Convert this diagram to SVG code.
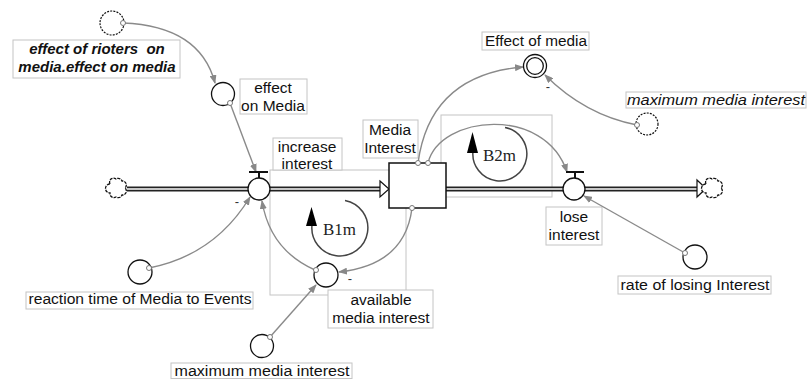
<svg xmlns="http://www.w3.org/2000/svg" xmlns:xlink="http://www.w3.org/1999/xlink" width="807" height="379" viewBox="0 0 807 379">
  <style>
    .lbl { font-family: "Liberation Sans", Arial, sans-serif; font-size: 15.5px; fill: #111; text-anchor: middle; }
    .ital { font-style: italic; }
    .bi { font-style: italic; font-weight: bold; font-size: 15px; white-space: pre; }
    .box { fill: #fff; stroke: #c4c4c4; stroke-width: 1; }
    .loopbox { fill: none; stroke: #c4c4c4; stroke-width: 1; }
    .aux { fill: #fff; stroke: #111; stroke-width: 1.3; }
    .ghost { fill: #fff; stroke: #111; stroke-width: 1.2; stroke-dasharray: 2 1.2; }
    .link { fill: none; stroke: #8a8a8a; stroke-width: 1.4; }
    .org { fill: #fff; stroke: #777; stroke-width: 1; }
    .pipeo { fill: none; stroke: #222; stroke-width: 5; }
    .pipei { fill: none; stroke: #fff; stroke-width: 1.6; }
    .loop { fill: none; stroke: #444; stroke-width: 1.5; }
    .loopt { font-family: "Liberation Serif", "Times New Roman", serif; font-size: 16px; fill: #222; }
    .pol { font-family: "Liberation Sans", Arial, sans-serif; font-size: 13px; fill: #333; text-anchor: middle; }
  </style>
  <defs>
    <marker id="arr" markerUnits="userSpaceOnUse" markerWidth="9" markerHeight="7" refX="8" refY="3.5" orient="auto">
      <path d="M0,0 L9,3.5 L0,7 z" fill="#888"/>
    </marker>
    <path id="cloud" d="M-7,-4 a4,4 0 0 1 6,-5 a4,4 0 0 1 6,2 a4,4 0 0 1 3,7 a4,4 0 0 1 -3,7 a4,4 0 0 1 -6,2 a4,4 0 0 1 -6,-4 a4,4 0 0 1 0,-9 z" fill="#fff" stroke="#111" stroke-width="1.3" stroke-dasharray="3 1"/>
  </defs>

  <!-- loop frames -->
  <g id="loop-frames">
    <rect class="loopbox" x="270" y="170" width="136" height="125"/>
    <rect class="loopbox" x="441" y="115" width="111" height="82"/>
  </g>

  <!-- label frames -->
  <g id="label-frames">
    <rect class="box" x="13" y="40" width="167" height="38"/>
    <rect class="box" x="240" y="79" width="67" height="35"/>
    <rect class="box" x="273" y="138" width="69" height="32"/>
    <rect class="box" x="363" y="120" width="55" height="38"/>
    <rect class="box" x="482" y="32" width="107" height="18"/>
    <rect class="box" x="626" y="92" width="180" height="16"/>
    <rect class="box" x="546" y="207" width="56" height="38"/>
    <rect class="box" x="618" y="276" width="153" height="18"/>
    <rect class="box" x="26" y="292" width="227" height="17"/>
    <rect class="box" x="328" y="290" width="105" height="38"/>
    <rect class="box" x="171" y="363" width="181" height="15.5"/>
  </g>

  <!-- flow pipes -->
  <g id="pipes">
    <path class="pipeo" d="M127,189 H381"/>
    <path class="pipei" d="M127,189 H381"/>
    <path class="pipeo" d="M446,189 H698"/>
    <path class="pipei" d="M446,189 H698"/>
    <path d="M380,181 L389,189 L380,197 z" fill="#fff" stroke="#111" stroke-width="1.2"/>
    <path d="M697,180 L706,188.5 L697,197 z" fill="#fff" stroke="#111" stroke-width="1.2"/>
  </g>

  <!-- connectors -->
  <g id="connectors">
    <path class="link" d="M123,23 Q200,26 215,83" marker-end="url(#arr)"/>
    <path class="link" d="M230,103 L256,172" marker-end="url(#arr)"/>
    <path class="link" d="M149,268 Q215,255 250,197" marker-end="url(#arr)"/>
    <path class="link" d="M412,208 Q405,265 339,272" marker-end="url(#arr)"/>
    <path class="link" d="M315,270 Q270,250 262,201" marker-end="url(#arr)"/>
    <path class="link" d="M270,337 L316,285" marker-end="url(#arr)"/>
    <path class="link" d="M418,163 Q430,75 523,67" marker-end="url(#arr)"/>
    <path class="link" d="M637,125 Q585,115 545,75" marker-end="url(#arr)"/>
    <path class="link" d="M428,163 C440,115 545,105 567,172" marker-end="url(#arr)"/>
    <path class="link" d="M685,253 L584,196" marker-end="url(#arr)"/>
  </g>

  <!-- sources and sinks -->
  <g id="source-cloud"><use xlink:href="#cloud" x="117" y="188"/></g>
  <g id="sink-cloud"><use xlink:href="#cloud" x="713" y="188"/></g>

  <!-- stock -->
  <g id="media-interest">
    <rect x="389" y="163" width="57" height="45" fill="#fff" stroke="#111" stroke-width="1.5"/>
    <circle class="org" cx="418" cy="163" r="2.5"/>
    <circle class="org" cx="428" cy="163" r="2.5"/>
    <circle class="org" cx="412" cy="208" r="2.5"/>
    <text class="lbl" x="390" y="135">Media</text>
    <text class="lbl" x="390" y="153">Interest</text>
  </g>

  <!-- flows -->
  <g id="increase-interest">
    <path d="M249,172 H268 M259,172 V178" stroke="#111" stroke-width="2" fill="none"/>
    <circle class="aux" cx="259" cy="189" r="11"/>
    <text class="lbl" x="307" y="152">increase</text>
    <text class="lbl" x="307" y="169">interest</text>
    <text class="pol" x="237" y="206">-</text>
  </g>
  <g id="lose-interest">
    <path d="M566,172 H584 M575,172 V178" stroke="#111" stroke-width="2" fill="none"/>
    <circle class="aux" cx="574" cy="189" r="11"/>
    <text class="lbl" x="574" y="222">lose</text>
    <text class="lbl" x="574" y="240">interest</text>
  </g>

  <!-- auxiliaries -->
  <g id="effect-of-rioters">
    <circle class="ghost" cx="112" cy="23" r="12"/>
    <circle class="org" cx="123" cy="23" r="2.5"/>
    <text class="lbl bi" x="97" y="54" xml:space="preserve">effect of rioters  on</text>
    <text class="lbl bi" x="97" y="72">media.effect on media</text>
  </g>
  <g id="effect-on-media">
    <circle class="aux" cx="223" cy="94" r="11.5"/>
    <circle class="org" cx="230" cy="103" r="2.5"/>
    <text class="lbl" x="273" y="93">effect</text>
    <text class="lbl" x="273" y="111">on Media</text>
  </g>
  <g id="effect-of-media">
    <circle class="aux" cx="535" cy="66" r="11.5"/>
    <circle class="aux" cx="535" cy="66" r="8.3"/>
    <text class="lbl" x="536" y="46" textLength="102" lengthAdjust="spacingAndGlyphs">Effect of media</text>
    <text class="pol" x="548" y="91">-</text>
  </g>
  <g id="maximum-media-interest-ghost">
    <circle class="ghost" cx="647" cy="124" r="11"/>
    <circle class="org" cx="637" cy="125" r="2.5"/>
    <text class="lbl ital" x="716" y="105" textLength="178" lengthAdjust="spacingAndGlyphs">maximum media interest</text>
  </g>
  <g id="reaction-time">
    <circle class="aux" cx="140" cy="272" r="12"/>
    <circle class="org" cx="149" cy="268" r="2.5"/>
    <text class="lbl" x="140" y="304" textLength="223" lengthAdjust="spacingAndGlyphs">reaction time of Media to Events</text>
  </g>
  <g id="available-media-interest">
    <circle class="aux" cx="326" cy="275" r="12"/>
    <circle class="org" cx="316" cy="270" r="2.5"/>
    <text class="lbl" x="381" y="305">available</text>
    <text class="lbl" x="381" y="323">media interest</text>
    <text class="pol" x="350" y="283">-</text>
  </g>
  <g id="maximum-media-interest">
    <circle class="aux" cx="262" cy="346" r="11.5"/>
    <circle class="org" cx="270" cy="337" r="2.5"/>
    <text class="lbl" x="262" y="376" textLength="175" lengthAdjust="spacingAndGlyphs">maximum media interest</text>
  </g>
  <g id="rate-of-losing-interest">
    <circle class="aux" cx="695" cy="257" r="12"/>
    <circle class="org" cx="685" cy="253" r="2.5"/>
    <text class="lbl" x="695" y="290" textLength="149" lengthAdjust="spacingAndGlyphs">rate of losing Interest</text>
  </g>

  <!-- feedback loop markers -->
  <g id="loop-B1m">
    <path class="loop" d="M345,200.4 A28,28 0 1 1 312,225"/>
    <path d="M311.5,207 L306,226 L317,226 z" fill="#000"/>
    <text class="loopt" x="323" y="235" textLength="33" lengthAdjust="spacingAndGlyphs">B1m</text>
  </g>
  <g id="loop-B2m">
    <path class="loop" d="M505,127.4 A27,27 0 1 1 473,151"/>
    <path d="M472.5,132 L467,153 L478,153 z" fill="#000"/>
    <text class="loopt" x="483" y="161" textLength="33" lengthAdjust="spacingAndGlyphs">B2m</text>
  </g>
</svg>
